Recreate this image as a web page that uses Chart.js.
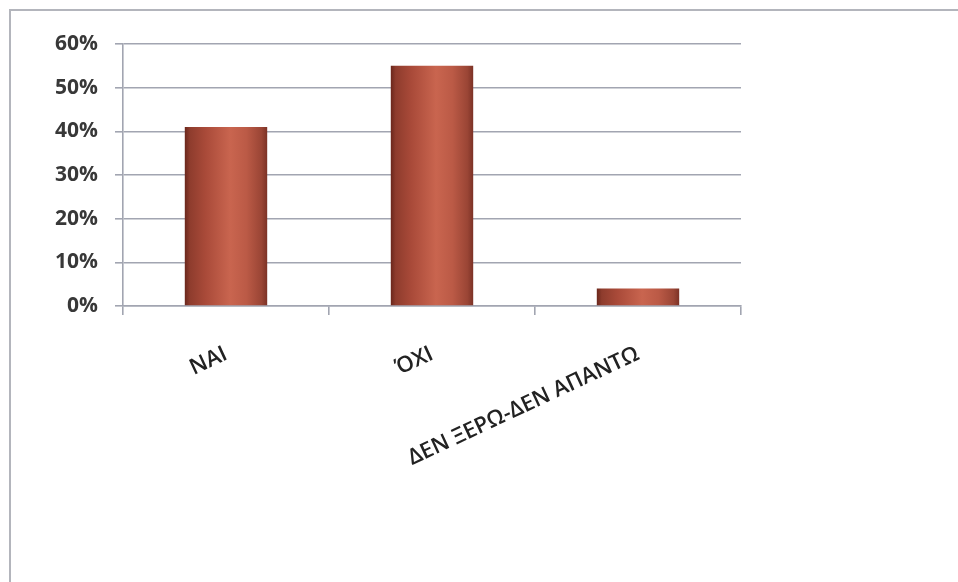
<!DOCTYPE html>
<html>
<head>
<meta charset="utf-8">
<script src="https://cdn.jsdelivr.net/npm/chart.js@4.4.1/dist/chart.umd.min.js"></script>
<style>
  html, body { margin: 0; padding: 0; background: #fff; }
  #wrap { position: relative; width: 958px; height: 582px; }
</style>
</head>
<body>
<div id="wrap"><canvas id="myChart" width="958" height="582"></canvas></div>
<script>
var categories = ['NAI', 'ΌΧΙ', 'ΔΕΝ ΞΕΡΩ-ΔΕΝ ΑΠΑΝΤΩ'];
var shares = [0.41, 0.55, 0.04];
var yTicks = [0, 0.1, 0.2, 0.3, 0.4, 0.5, 0.6];

var gridColor = '#a2a5b1';
var BAR_PCT = 0.4;

// cylinder-like shading across each bar
function barFill(c) {
  var chart = c.chart;
  var xs = chart.scales.x;
  if (!chart.chartArea || !xs || c.dataIndex === undefined) return '#b4513f';
  var cx = xs.getPixelForValue(c.dataIndex);
  var w = (xs.width / categories.length) * BAR_PCT;
  if (!isFinite(cx) || !isFinite(w)) return '#b4513f';
  var g = chart.ctx.createLinearGradient(cx - w / 2, 0, cx + w / 2, 0);
  g.addColorStop(0, '#6a271c');
  g.addColorStop(0.06, '#8e3c2d');
  g.addColorStop(0.25, '#a94a39');
  g.addColorStop(0.55, '#c9654f');
  g.addColorStop(0.75, '#bb5a46');
  g.addColorStop(0.93, '#9a4535');
  g.addColorStop(1, '#7c3226');
  return g;
}

// thin frame along the top and left edge
var framePlugin = {
  id: 'frame',
  beforeDraw: function (chart) {
    var ctx = chart.ctx;
    ctx.save();
    ctx.strokeStyle = '#b3b5bc';
    ctx.lineWidth = 2;
    ctx.beginPath();
    ctx.moveTo(958, 10);
    ctx.lineTo(10, 10);
    ctx.lineTo(10, 582);
    ctx.stroke();
    ctx.restore();
  }
};

document.addEventListener('DOMContentLoaded', function () {
  var ctx = document.getElementById('myChart').getContext('2d');
  var myChart = new Chart(ctx, {
    type: 'bar',
    data: {
      labels: categories,
      datasets: [{
        data: shares,
        backgroundColor: barFill,
        borderWidth: 0,
        categoryPercentage: 1,
        barPercentage: BAR_PCT
      }]
    },
    plugins: [framePlugin],
    options: {
      responsive: false,
      animation: false,
      layout: { padding: { left: 10, top: 44, right: 217, bottom: 0 } },
      plugins: {
        legend: { display: false },
        tooltip: { enabled: false }
      },
      scales: {
        y: {
          min: 0,
          max: 0.6,
          afterFit: function (s) { s.width = 113; },
          afterBuildTicks: function (s) {
            s.ticks = yTicks.map(function (v) { return { value: v }; });
          },
          ticks: {
            padding: 17,
            color: '#383838',
            font: { family: 'Open Sans', size: 21, weight: 'bold' },
            callback: function (v) { return Math.round(v * 100) + '%'; }
          },
          grid: { color: gridColor, lineWidth: 1.6, tickLength: 8 },
          border: { color: gridColor, width: 1.6 }
        },
        x: {
          afterFit: function (s) { s.height = 276; },
          ticks: {
            minRotation: 25,
            maxRotation: 25,
            padding: 26,
            color: '#222',
            font: { family: 'Open Sans', size: 22, weight: 600 }
          },
          grid: {
            offset: true,
            drawOnChartArea: false,
            color: gridColor,
            lineWidth: 1.6,
            tickLength: 9
          },
          border: { color: gridColor, width: 1.6 }
        }
      }
    }
  });
});
</script>
</body>
</html>
